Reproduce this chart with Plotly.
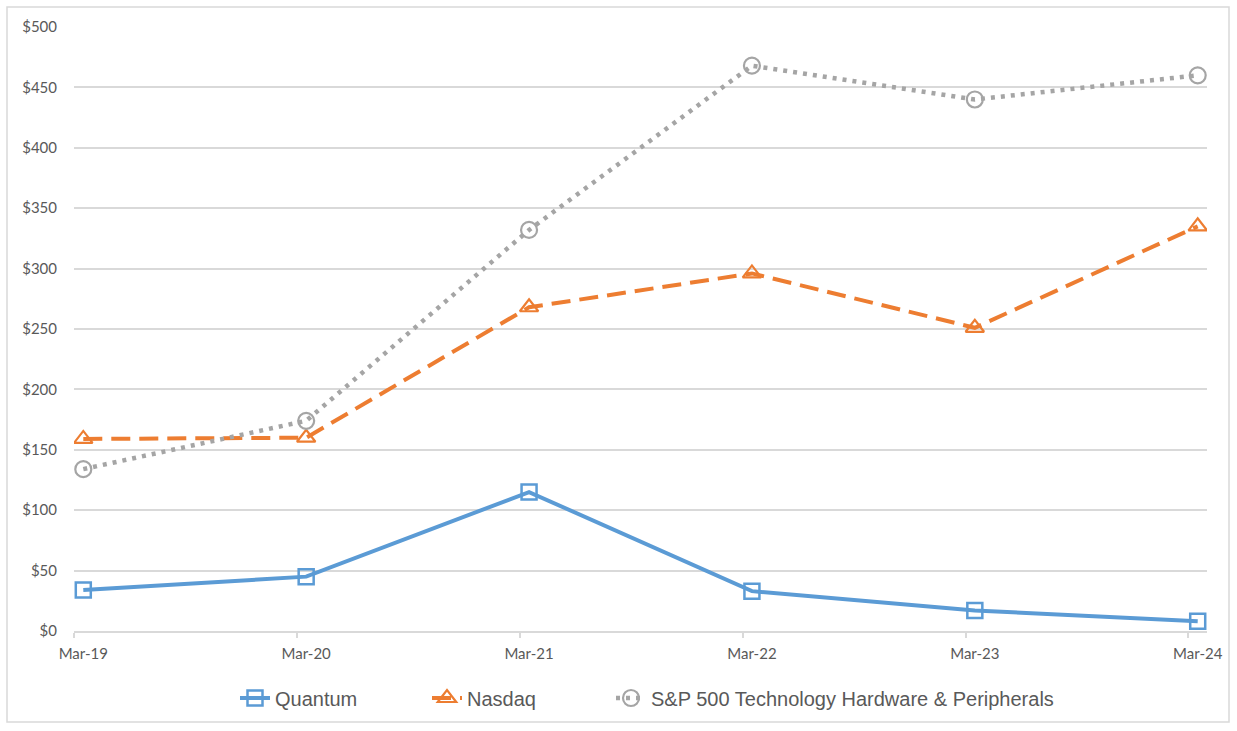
import plotly.graph_objects as go

# ---- data ----
periods = ["Mar-19", "Mar-20", "Mar-21", "Mar-22", "Mar-23", "Mar-24"]
quantum = [34, 45, 115, 33, 17, 8]
nasdaq = [159, 160, 268, 296, 251, 335]
sp500_tech = [134, 174, 332, 468, 440, 460]
y_ticks = [0, 50, 100, 150, 200, 250, 300, 350, 400, 450, 500]
y_tick_text = ["$" + str(v) for v in y_ticks]

# month-based positions: each period starts at a tick, point sits mid-month
tick_pos = [i * 12 for i in range(len(periods))]
point_pos = [p + 0.5 for p in tick_pos]

TEXT = "#595959"
GRID = "#D9D9D9"

L, R, T, B = 74, 30, 27, 100
W, H = 1237, 731
pw, ph = W - L - R, H - T - B


def px_to_paper_x(px):
    return (px - L) / pw


def px_to_paper_y(py):
    return (H - B - py) / ph


fig = go.Figure()
fig.add_trace(go.Scatter(
    x=point_pos, y=quantum, name="Quantum", mode="lines+markers",
    line=dict(color="#5B9BD5", width=4),
    marker=dict(symbol="square-open", size=15, color="#5B9BD5",
                line=dict(width=2.5, color="#5B9BD5")),
    legend="legend",
))
fig.add_trace(go.Scatter(
    x=point_pos, y=nasdaq, name="Nasdaq", mode="lines+markers",
    line=dict(color="#ED7D31", width=4, dash="19px,9px"),
    marker=dict(symbol="triangle-up-open", size=16, color="#ED7D31",
                line=dict(width=2.2, color="#ED7D31")),
    legend="legend2",
))
fig.add_trace(go.Scatter(
    x=point_pos, y=sp500_tech, name="S&P 500 Technology Hardware & Peripherals",
    mode="lines+markers",
    line=dict(color="#A5A5A5", width=4.5, dash="4px,6px"),
    marker=dict(symbol="circle-open", size=16, color="#A5A5A5",
                line=dict(width=2.2, color="#A5A5A5")),
    legend="legend3",
))

# outer frame
fig.add_shape(type="rect", xref="paper", yref="paper",
              x0=px_to_paper_x(7), x1=px_to_paper_x(1229),
              y0=px_to_paper_y(722), y1=px_to_paper_y(7),
              line=dict(color=GRID, width=1.5), layer="below")

leg_font = dict(family="Liberation Sans", size=20, color=TEXT)
leg_y = px_to_paper_y(698)


def leg(text_start_px):
    return dict(orientation="h", x=px_to_paper_x(text_start_px - 40), xanchor="left",
                y=leg_y, yanchor="middle", font=leg_font,
                bgcolor="rgba(0,0,0,0)")


fig.update_layout(
    width=W, height=H,
    margin=dict(l=L, r=R, t=T, b=B),
    paper_bgcolor="white", plot_bgcolor="white",
    font=dict(family="Lato", color=TEXT, size=15),
    showlegend=True,
    legend=leg(275),
    legend2=leg(467),
    legend3=leg(651),
    xaxis=dict(
        range=[0, 61],
        tickmode="array", tickvals=point_pos, ticktext=periods,
        ticks="", showgrid=False, zeroline=False,
        showline=True, linecolor=GRID, linewidth=1.5,
        tickfont=dict(family="Lato", size=15, color=TEXT),
        ticklabelstandoff=8,
        minor=dict(tickmode="array", tickvals=tick_pos, ticks="outside",
                   ticklen=5, tickcolor=GRID, tickwidth=1.5, showgrid=False),
        fixedrange=True,
    ),
    yaxis=dict(
        range=[0, 500],
        tickmode="array", tickvals=y_ticks, ticktext=y_tick_text,
        showgrid=True, gridcolor=GRID, gridwidth=1.5,
        zeroline=False, showline=False, ticks="",
        tickfont=dict(family="Lato", size=15, color=TEXT),
        ticklabelstandoff=16,
        fixedrange=True,
    ),
)

fig.write_html("out.html", config={"displayModeBar": False},
               post_script="document.body.style.margin='0px';")
